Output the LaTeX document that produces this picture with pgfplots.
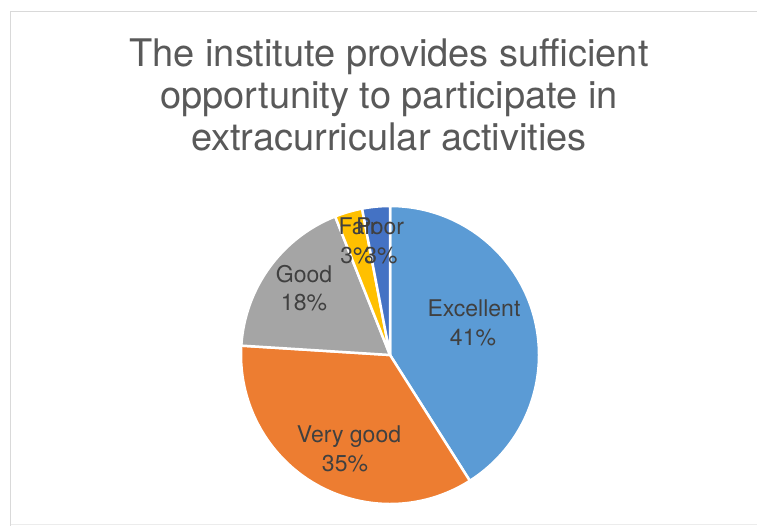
\documentclass[border=0pt]{standalone}
\usepackage{pgfplots}
\usepackage{pgfplotstable}
\pgfplotsset{compat=1.18}
\usepackage{fontspec}
\setmainfont{TeX Gyre Heros}
\definecolor{pie0}{HTML}{5B9BD5}
\definecolor{pie1}{HTML}{ED7D31}
\definecolor{pie2}{HTML}{A5A5A5}
\definecolor{pie3}{HTML}{FFC000}
\definecolor{pie4}{HTML}{4472C4}
\definecolor{titlegray}{HTML}{595959}
\definecolor{labelgray}{HTML}{404040}
\definecolor{framegray}{HTML}{D9D9D9}
\pgfplotstableread[col sep=comma]{
label,value
Excellent,41
Very good,35
Good,18
Fair,3
Poor,3
}\piedata
\begin{document}
\begin{tikzpicture}
\begin{axis}[
  x=1pt, y=1pt,
  xmin=0, xmax=757, ymin=0, ymax=526,
  hide axis,
  clip=true,
]
% frame
\draw[framegray, line width=1.5pt] (axis cs:10.5,-5) -- (axis cs:10.5,514.5) -- (axis cs:770,514.5);
\draw[framegray!50, line width=1pt] (axis cs:10.5,1.5) -- (axis cs:770,1.5);
% pie slices from data
\pgfplotstablegetrowsof{\piedata}
\pgfmathtruncatemacro\N{\pgfplotsretval-1}
\def\cum{0}
\pgfplotsforeachungrouped \i in {0,...,\N}{%
  \pgfplotstablegetelem{\i}{value}\of\piedata
  \let\val\pgfplotsretval
  \pgfmathsetmacro\sa{90-3.6*\cum}%
  \pgfmathsetmacro\ea{90-3.6*(\cum+\val)}%
  \pgfmathsetmacro\cum{\cum+\val}%
  \edef\temp{\noexpand\fill[fill=pie\i, draw=white, line width=2.5pt, line join=round] (axis cs:390,171) -- ++(\sa:149pt) arc[start angle=\sa, end angle=\ea, radius=149pt] -- cycle;}%
  \temp
}
% title
\node[anchor=base, text=titlegray, font=\fontsize{38}{43}\selectfont] at (axis cs:389,459) {The institute provides sufficient};
\node[anchor=base, text=titlegray, font=\fontsize{38}{43}\selectfont] at (axis cs:389,417) {opportunity to participate in};
\node[anchor=base, text=titlegray, font=\fontsize{38}{43}\selectfont] at (axis cs:389,375) {extracurricular activities};
% data labels
\tikzset{lbl/.style={anchor=base, text=labelgray, font=\fontsize{23}{27}\selectfont, inner sep=0pt}}
\node[lbl] at (axis cs:474,209) {Excellent};
\node[lbl] at (axis cs:473,180) {41\%};
\node[lbl] at (axis cs:349,83) {Very good};
\node[lbl] at (axis cs:345,54) {35\%};
\node[lbl] at (axis cs:304,243) {Good};
\node[lbl] at (axis cs:304,215) {18\%};
\node[lbl] at (axis cs:358,291) {Fair};
\node[lbl] at (axis cs:357,262) {3\%};
\node[lbl] at (axis cs:380,291) {Poor};
\node[lbl] at (axis cs:381,262) {3\%};
\end{axis}
\pgfresetboundingbox
\path (current axis.south west) rectangle (current axis.north east);
\end{tikzpicture}
\end{document}
